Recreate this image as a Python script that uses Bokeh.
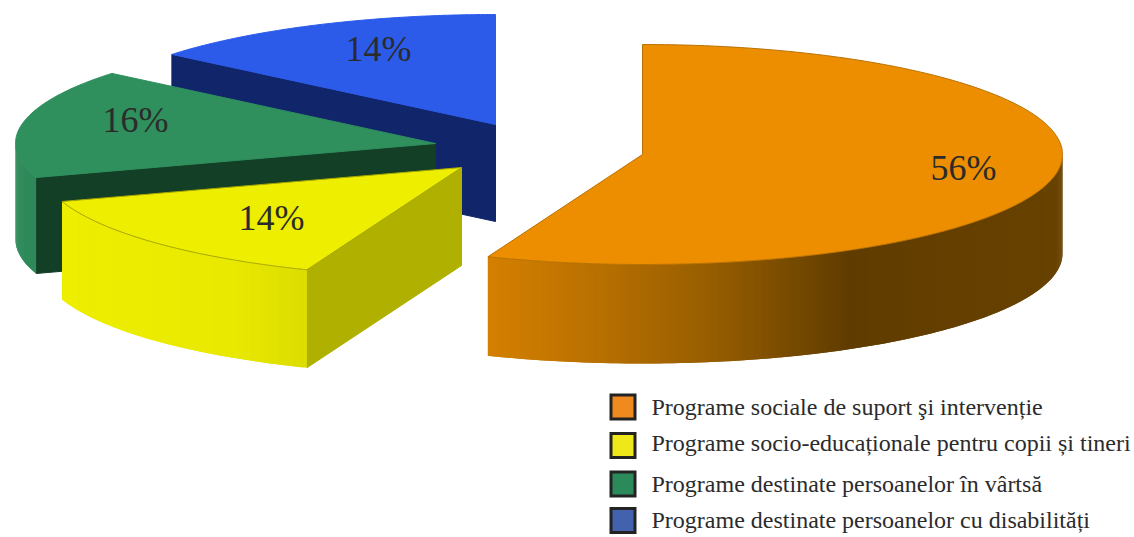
import math
from bokeh.plotting import figure
from bokeh.models import ColumnDataSource, Range1d
from bokeh.core.properties import value
from bokeh.embed import file_html
from bokeh.resources import INLINE

# --- chart values ---
categories = [
    "Programe sociale de suport şi intervenție",
    "Programe socio-educaționale pentru copii și tineri",
    "Programe destinate persoanelor în vârtsă",
    "Programe destinate persoanelor cu disabilități",
]
shares = [56, 14, 16, 14]
share_labels = ["56%", "14%", "16%", "14%"]

# --- layout (page pixels) and style ---
W, H = 1134, 537
RX, RY = 420, 110
depths = [99, 98, 96, 97]
centers = [(642, 154), (461, 167), (435, 143), (495, 124)]
label_pos = [(963, 167), (271, 217), (135, 119), (378, 48)]
top_colors = ["#ec8e00", "#eeee00", "#2f8f5d", "#2c5bea"]
face_colors = ["#d07c00", "#b0b000", "#123f25", "#11266a"]
edge_colors = ["#b87000", "#a8a800", "#2f8f5d", "#2c5bea"]
legend_colors = ["#ef8a1f", "#eee81a", "#2a8a5a", "#4262ad"]
legend_box_y = [406.5, 445, 483.5, 520]
legend_text_y = [406, 442, 483, 519]
START_ANGLE = 90.0


def hex2rgb(h):
    return tuple(int(h[i:i + 2], 16) for i in (1, 3, 5))


def ramp(stops, x):
    if x <= stops[0][0]:
        return stops[0][1]
    for (x0, c0), (x1, c1) in zip(stops, stops[1:]):
        if x <= x1:
            t = (x - x0) / (x1 - x0)
            a, b = hex2rgb(c0), hex2rgb(c1)
            return "#%02x%02x%02x" % tuple(round(a[i] + (b[i] - a[i]) * t) for i in range(3))
    return stops[-1][1]


wall_ramps = [
    [(487, "#d58000"), (600, "#b87000"), (720, "#945c00"), (850, "#603c00"), (1062, "#684200")],
    [(62, "#eeee00"), (230, "#e9e900"), (310, "#dcdc00")],
    [(16, "#2f8a5a"), (37, "#2f8a5a")],
    [(0, "#2c5bea"), (1, "#2c5bea")],
]

p = figure(width=W, height=H, x_range=Range1d(0, W), y_range=Range1d(H, 0),
           output_backend="svg", toolbar_location=None, min_border=0,
           outline_line_color=None, background_fill_color="white", border_fill_color="white")
p.axis.visible = False
p.grid.visible = False


def pt(c, a):
    r = math.radians(a)
    return c[0] + RX * math.cos(r), c[1] - RY * math.sin(r)


# cumulative clockwise angles from the values
spans, a = [], START_ANGLE
for s in shares:
    b = a - 360.0 * s / sum(shares)
    spans.append((a, b))
    a = b

for i in [3, 2, 1, 0]:  # back to front
    c, (a0, a1) = centers[i], spans[i]
    d = depths[i]
    n = max(int(abs(a1 - a0) * 2), 2)
    angles = [a0 + (a1 - a0) * k / n for k in range(n + 1)]

    # radial face on the side of the slice that looks toward the viewer
    if i in (1, 2, 3):
        px, py = pt(c, a0)
        p.patch([c[0], px, px, c[0]], [c[1], py, py + d, c[1] + d],
                fill_color=face_colors[i], line_color=face_colors[i], line_width=1)

    # outer wall, drawn in overlapping strips so the shading can vary along it
    xs, ys, cols = [], [], []
    for k in range(n):
        u, v = angles[k], angles[min(k + 2, n)]
        if math.sin(math.radians(u)) > 0.0 and math.sin(math.radians(v)) > 0.0:
            continue
        x0, y0 = pt(c, u)
        x1, y1 = pt(c, v)
        xs.append([x0, x1, x1, x0])
        ys.append([y0, y1, y1 + d, y0 + d])
        cols.append(ramp(wall_ramps[i], x0))
    if xs:
        p.patches(xs, ys, fill_color=cols, line_color=None)

    # top surface
    tx = [c[0]] + [pt(c, t)[0] for t in angles]
    ty = [c[1]] + [pt(c, t)[1] for t in angles]
    p.patch(tx, ty, fill_color=top_colors[i], line_color=edge_colors[i], line_width=1)

# percentage labels
p.text(x=[q[0] for q in label_pos], y=[q[1] for q in label_pos], text=share_labels,
       text_font=value("Liberation Serif"), text_font_size="36px", text_color="#2b2b2b",
       text_align="center", text_baseline="alphabetic")

# legend
src = ColumnDataSource(dict(y=legend_box_y, c=legend_colors))
p.rect(x=622.5, y="y", width=24, height=24, source=src, fill_color="c",
       line_color="#232323", line_width=3, line_join="miter")
p.text(x=651, y=legend_text_y, text=categories, text_font=value("Liberation Serif"),
       text_font_size="24px", text_color="#2b2b2b", text_baseline="alphabetic")

open("out.html", "w").write(file_html(p, INLINE))
